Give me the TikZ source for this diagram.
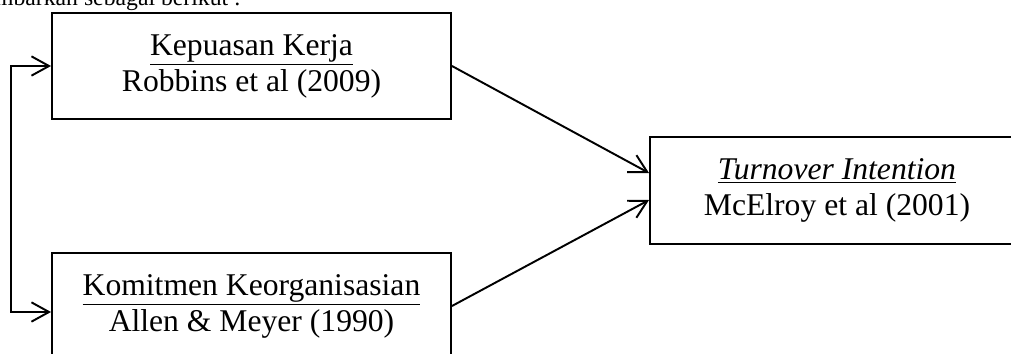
\documentclass[tikz,border=0pt]{standalone}
\usepackage{fontspec}
\setmainfont{Liberation Serif}
\usepackage{tikz}
\usetikzlibrary{positioning,arrows.meta,calc}

\begin{document}
\begin{tikzpicture}[every node/.style={font=\fontsize{18}{20.5}\selectfont},
  varbox/.style={draw, rectangle, line width=1.1pt, minimum width=7.98cm, minimum height=2.12cm, align=center},
  arr/.style={line width=1.1pt, -{Straight Barb[length=10pt,width=11pt]}},
  arrboth/.style={line width=1.1pt, {Straight Barb[length=10pt,width=11pt]}-{Straight Barb[length=10pt,width=11pt]}}]
  \useasboundingbox (0,0) rectangle (20.22,7.06);

\node (intro) at (4.94,6.96) [anchor=base east, font=\fontsize{13.5}{16}\selectfont] {mbarkan sebagai berikut :};

\node (kk) at (5.03,5.74) [varbox] {\underline{Kepuasan Kerja}\\Robbins et al (2009)};

\node (ko) at (5.03,0.94) [varbox] {\underline{Komitmen Keorganisasian}\\Allen \& Meyer (1990)};

\node (ti) at (16.74,3.25) [varbox, minimum width=7.48cm, minimum height=2.14cm] {\underline{\textit{Turnover Intention}}\\McElroy et al (2001)};
  % panah ke variabel dependen
  \draw[arr] (kk.east) -- ([yshift=0.35cm]ti.west);
  \draw[arr] (ko.east) -- ([yshift=-0.19cm]ti.west);
  % garis penghubung kiri
  \draw[arrboth] (kk.west) -- ++(-0.8,0) |- ([yshift=-0.12cm]ko.west);
\end{tikzpicture}
\end{document}
